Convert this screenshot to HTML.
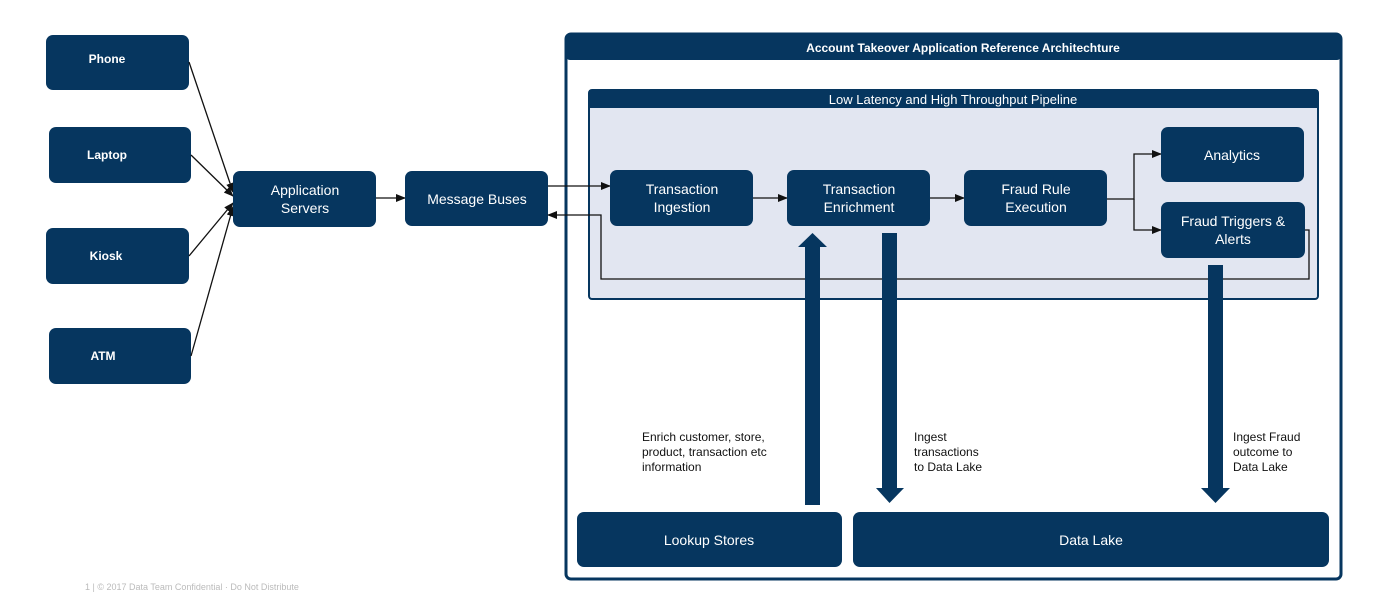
<!DOCTYPE html>
<html><head><meta charset="utf-8"><style>
html,body{margin:0;padding:0;background:#fff;}
svg{display:block;font-family:"Liberation Sans",Arial,sans-serif;}
.n{fill:#06365f;}
.t{fill:#fff;font-size:14px;text-anchor:middle;}
.ts{fill:#fff;font-size:12px;font-weight:bold;text-anchor:middle;}
.l{stroke:#111;stroke-width:1.3;fill:none;}
.lab{font-size:12px;fill:#111;}
</style></head><body>
<svg width="1374" height="598" viewBox="0 0 1374 598">
<defs><marker id="a" markerWidth="10" markerHeight="8" refX="9" refY="4" orient="auto" markerUnits="userSpaceOnUse"><path d="M0,0 L10,4 L0,8 Z" fill="#111"/></marker></defs>
<!-- outer -->
<rect x="566" y="34" width="775" height="545" rx="5" fill="#fff" stroke="#06365f" stroke-width="3"/>
<rect x="566" y="34" width="775" height="26" rx="4" class="n"/>
<text x="963" y="52" class="ts">Account Takeover Application Reference Architechture</text>
<!-- pipeline -->
<rect x="589" y="90" width="729" height="209" rx="3" fill="#e2e6f1" stroke="#06365f" stroke-width="2"/>
<rect x="589" y="90" width="729" height="18" class="n"/>
<text x="953" y="104" class="t" style="font-size:13px">Low Latency and High Throughput Pipeline</text>
<!-- devices -->
<rect x="46" y="35" width="143" height="55" rx="7" class="n"/><text x="107" y="63" class="ts">Phone</text>
<rect x="49" y="127" width="142" height="56" rx="7" class="n"/><text x="107" y="159" class="ts">Laptop</text>
<rect x="46" y="228" width="143" height="56" rx="7" class="n"/><text x="106" y="260" class="ts">Kiosk</text>
<rect x="49" y="328" width="142" height="56" rx="7" class="n"/><text x="103" y="360" class="ts">ATM</text>
<line x1="189" y1="62" x2="233" y2="192" class="l" marker-end="url(#a)"/>
<line x1="191" y1="155" x2="233" y2="196" class="l" marker-end="url(#a)"/>
<line x1="189" y1="256" x2="233" y2="203" class="l" marker-end="url(#a)"/>
<line x1="191" y1="356" x2="233" y2="207" class="l" marker-end="url(#a)"/>
<rect x="233" y="171" width="143" height="56" rx="7" class="n"/><text x="305" y="195" class="t">Application</text><text x="305" y="213" class="t">Servers</text>
<line x1="376" y1="198" x2="405" y2="198" class="l" marker-end="url(#a)"/>
<rect x="405" y="171" width="143" height="55" rx="7" class="n"/><text x="477" y="204" class="t">Message Buses</text>
<line x1="548" y1="186" x2="610" y2="186" class="l" marker-end="url(#a)"/>
<rect x="610" y="170" width="143" height="56" rx="7" class="n"/><text x="682" y="194" class="t">Transaction</text><text x="682" y="212" class="t">Ingestion</text>
<line x1="753" y1="198" x2="787" y2="198" class="l" marker-end="url(#a)"/>
<rect x="787" y="170" width="143" height="56" rx="7" class="n"/><text x="859" y="194" class="t">Transaction</text><text x="859" y="212" class="t">Enrichment</text>
<line x1="930" y1="198" x2="964" y2="198" class="l" marker-end="url(#a)"/>
<rect x="964" y="170" width="143" height="56" rx="7" class="n"/><text x="1036" y="194" class="t">Fraud Rule</text><text x="1036" y="212" class="t">Execution</text>
<polyline points="1107,199 1134,199 1134,154 1161,154" class="l" marker-end="url(#a)"/>
<polyline points="1134,199 1134,230 1161,230" class="l" marker-end="url(#a)"/>
<rect x="1161" y="127" width="143" height="55" rx="7" class="n"/><text x="1232" y="160" class="t">Analytics</text>
<rect x="1161" y="202" width="144" height="56" rx="7" class="n"/><text x="1233" y="226" class="t">Fraud Triggers &amp;</text><text x="1233" y="244" class="t">Alerts</text>
<polyline points="1305,230 1309,230 1309,279 601,279 601,215 548,215" class="l" marker-end="url(#a)"/>
<!-- big arrows -->
<path d="M805,505 L820,505 L820,247 L827,247 L812.5,233 L798,247 L805,247 Z" class="n"/>
<path d="M882,233 L897,233 L897,488 L904,488 L889.5,503 L876,488 L882,488 Z" class="n"/>
<path d="M1208,265 L1223,265 L1223,488 L1230,488 L1215.5,503 L1201,488 L1208,488 Z" class="n"/>
<text class="lab"><tspan x="642" y="441">Enrich customer, store,</tspan><tspan x="642" y="456">product, transaction etc</tspan><tspan x="642" y="471">information</tspan></text>
<text class="lab"><tspan x="914" y="441">Ingest</tspan><tspan x="914" y="456">transactions</tspan><tspan x="914" y="471">to Data Lake</tspan></text>
<text class="lab"><tspan x="1233" y="441">Ingest Fraud</tspan><tspan x="1233" y="456">outcome to</tspan><tspan x="1233" y="471">Data Lake</tspan></text>
<rect x="577" y="512" width="265" height="55" rx="7" class="n"/><text x="709" y="545" class="t">Lookup Stores</text>
<rect x="853" y="512" width="476" height="55" rx="7" class="n"/><text x="1091" y="545" class="t">Data Lake</text>
<text x="85" y="590" style="font-size:9px;fill:#bbb">1  |  © 2017 Data Team Confidential · Do Not Distribute</text>
</svg>
</body></html>
